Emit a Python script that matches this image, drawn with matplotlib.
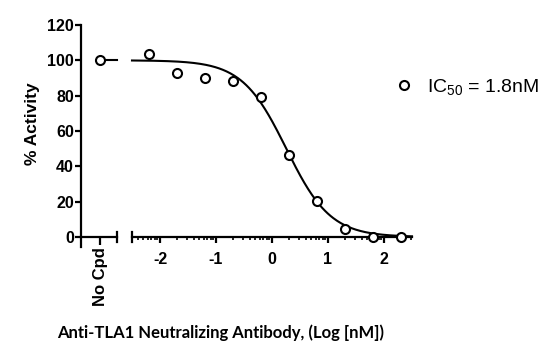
import numpy as np
import matplotlib.pyplot as plt

plt.rcParams['font.family'] = ['Liberation Sans', 'DejaVu Sans']
plt.rcParams['mathtext.default'] = 'regular'

# measured responses (log10 nM vs % activity)
log_conc = [-2.2, -1.7, -1.2, -0.7, -0.2, 0.3, 0.8, 1.3, 1.8, 2.3]
activity = [103.4, 93.0, 90.2, 88.3, 79.4, 46.2, 20.4, 4.3, 0.2, -0.2]
no_cpd_activity = [100.0]

# fitted 4PL parameters
top, bottom = 100.0, 0.0
log_ic50 = np.log10(1.8)
hill = 1.1

yticks = [0, 20, 40, 60, 80, 100, 120]
xticks = [-2, -1, 0, 1, 2]


def fit(x):
    return bottom + (top - bottom) / (1 + 10 ** ((x - log_ic50) * hill))


W, H = 545, 359
fig = plt.figure(figsize=(W / 100, H / 100), dpi=100)
ybot, ytop = 247, 25
ax1 = fig.add_axes([81 / W, 1 - ybot / H, 36 / W, (ybot - ytop) / H])
ax2 = fig.add_axes([132 / W, 1 - ybot / H, 280 / W, (ybot - ytop) / H])

lw = 1.6
for ax in (ax1, ax2):
    ax.set_ylim(-5.7, 120)
    ax.spines['top'].set_visible(False)
    ax.spines['right'].set_visible(False)
    ax.spines['bottom'].set_position(('data', 0))
    ax.spines['bottom'].set_linewidth(lw)
    ax.spines['left'].set_linewidth(lw)
    ax.patch.set_visible(False)

# left "No Cpd" segment
ax1.set_xlim(-19 / 36, 17 / 36)
ax1.plot([0, 17 / 36], [top, top], color='black', lw=1.5, clip_on=False)
ax1.plot([0], no_cpd_activity, 'o', mfc='white', mec='black', ms=6.5, mew=1.5,
         clip_on=False, zorder=5)
ax1.set_yticks(yticks)
ax1.set_xticks([0])
ax1.set_xticklabels(['No Cpd'], rotation=90, fontweight='bold', fontsize=12)
ax1.tick_params(axis='y', direction='out', length=4, width=lw, pad=1,
                labelsize=11.5)
for t in ax1.get_yticklabels():
    t.set_fontweight('bold')
ax1.tick_params(axis='x', direction='out', length=6, width=lw, pad=1)
ax1.plot([1, 1], [-3, 3], color='black', lw=lw, transform=ax1.get_yaxis_transform(),
         clip_on=False)
ax1.set_ylabel('% Activity', fontweight='bold', fontsize=12.5)
ax1.yaxis.set_label_coords((40 - 81) / 36, (247 - 124) / 222)

# right concentration segment
ax2.spines['left'].set_visible(False)
ax2.set_xlim(-2.5, 2.5)
ax2.set_yticks([])
xs = np.linspace(-2.5, 2.5, 300)
ax2.plot(xs, fit(xs), color='black', lw=1.5, clip_on=False)
ax2.plot(log_conc, activity, 'o', mfc='white', mec='black', ms=6.5, mew=1.5,
         clip_on=False, zorder=5, label=r'IC$_{50}$ = 1.8nM')
ax2.set_xticks(xticks)
ax2.set_xticklabels([str(v) for v in xticks], fontweight='bold', fontsize=11.5)
minor = [d + np.log10(k) for d in range(-3, 3) for k in range(2, 10)]
minor = [m for m in minor if -2.5 < m < 2.5]
ax2.set_xticks(minor, minor=True)
ax2.tick_params(axis='x', which='major', direction='out', length=4, width=lw, pad=7)
ax2.tick_params(axis='x', which='minor', direction='out', length=2.5, width=1.2)
ax2.plot([0, 0], [-3, 3], color='black', lw=lw, transform=ax2.get_yaxis_transform(),
         clip_on=False)

leg = fig.legend(handles=[ax2.lines[1]], loc='center left',
                 bbox_to_anchor=(375 / W, 1 - 87 / H), frameon=False,
                 fontsize=14, handletextpad=0.55, handlelength=1.2)

fig.text(221 / W, 1 - 333 / H, 'Anti-TLA1 Neutralizing Antibody, (Log [nM])',
         ha='center', va='center', fontsize=12, fontweight='bold',
         family=['Lato', 'DejaVu Sans'])

fig.savefig('out.png', dpi=100)
